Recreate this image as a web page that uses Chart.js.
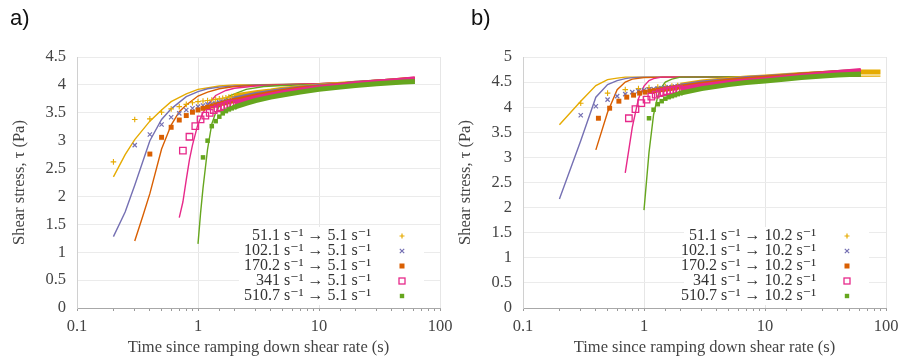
<!DOCTYPE html>
<html>
<head>
<meta charset="utf-8">
<script src="https://cdn.jsdelivr.net/npm/chart.js"></script>
<style>
body { margin: 0; background: #fff; }
#wrap { position: relative; width: 900px; height: 362px; overflow: hidden; background: #fff; }
.panel { position: absolute; top: 0; }
.tag { position: absolute; top: 5px; font-family: "Liberation Sans", "Open Sans", sans-serif; font-size: 22px; color: #111; }
</style>
</head>
<body>
<div id="wrap">
  <div class="panel" style="left:0px"><canvas id="chartA" width="470" height="362"></canvas></div>
  <div class="panel" style="left:450px"><canvas id="chartB" width="470" height="362"></canvas></div>
  <div class="tag" style="left:10px">a)</div>
  <div class="tag" style="left:471px">b)</div>
</div>
<script>
// ---- data, panel a (ramp down to 5.1 1/s) ----
const aLegend = ['51.1 s⁻¹ → 5.1 s⁻¹', '102.1 s⁻¹ → 5.1 s⁻¹', '170.2 s⁻¹ → 5.1 s⁻¹', '341 s⁻¹ → 5.1 s⁻¹', '510.7 s⁻¹ → 5.1 s⁻¹'];
const aFitTime = [
    [0.2, 0.25, 0.3, 0.4, 0.5, 0.6, 0.8, 1, 1.5, 2, 5, 10, 30, 62],
    [0.2, 0.25, 0.3, 0.4, 0.5, 0.6, 0.8, 1, 1.2, 1.5, 2, 3, 10, 30, 62],
    [0.3, 0.35, 0.4, 0.5, 0.6, 0.7, 0.8, 1, 1.2, 1.5, 2, 3, 10, 30, 62],
    [0.7, 0.75, 0.8, 0.85, 0.9, 1, 1.1, 1.2, 1.4, 1.7, 2, 3, 5, 10, 30, 62],
    [1, 1.05, 1.1, 1.2, 1.3, 1.4, 1.5, 1.8, 2.5, 3.5, 5, 10, 30, 62]
];
const aFitStress = [
    [2.35, 2.75, 3.02, 3.35, 3.55, 3.7, 3.84, 3.92, 3.98, 4.0, 4.01, 4.02, 4.06, 4.1],
    [1.28, 1.72, 2.2, 3.0, 3.38, 3.57, 3.79, 3.88, 3.93, 3.96, 3.98, 4.0, 4.02, 4.06, 4.1],
    [1.2, 1.65, 2.05, 2.85, 3.28, 3.52, 3.64, 3.8, 3.87, 3.93, 3.97, 3.99, 4.02, 4.06, 4.1],
    [1.62, 1.9, 2.3, 2.66, 2.92, 3.3, 3.5, 3.64, 3.81, 3.9, 3.94, 3.98, 4.0, 4.02, 4.06, 4.11],
    [1.15, 1.7, 2.15, 2.85, 3.3, 3.5, 3.62, 3.8, 3.92, 3.97, 3.99, 4.01, 4.06, 4.1]
];
const aMarkTime = [
    [0.2, 0.3, 0.4, 0.5, 0.6, 0.7, 0.8, 0.9, 1.0, 1.1, 1.2, 1.3, 1.4, 1.5, 1.6, 1.7, 1.8, 1.9, 2.0],
    [0.3, 0.4, 0.5, 0.6, 0.7, 0.8, 0.9, 1.0, 1.1, 1.2, 1.3, 1.4, 1.5, 1.6, 1.7, 1.8, 1.9, 2.0],
    [0.4, 0.5, 0.6, 0.7, 0.8, 0.9, 1.0, 1.1, 1.2, 1.3, 1.4, 1.5, 1.6, 1.7, 1.8, 1.9, 2.0],
    [0.75, 0.85, 0.95, 1.05, 1.15, 1.25, 1.35, 1.45, 1.55, 1.65, 1.75, 1.85, 1.95],
    [1.1, 1.2, 1.3, 1.4, 1.5, 1.6, 1.7, 1.8, 1.9, 2.0]
];
const aMarkStress = [
    [2.62, 3.38, 3.39, 3.51, 3.57, 3.61, 3.65, 3.68, 3.7, 3.71, 3.72, 3.73, 3.74, 3.75, 3.76, 3.77, 3.78, 3.79, 3.8],
    [2.92, 3.11, 3.29, 3.42, 3.49, 3.55, 3.58, 3.61, 3.63, 3.65, 3.66, 3.67, 3.69, 3.7, 3.71, 3.72, 3.73, 3.75],
    [2.76, 3.06, 3.24, 3.37, 3.45, 3.51, 3.55, 3.58, 3.6, 3.62, 3.64, 3.65, 3.67, 3.68, 3.7, 3.71, 3.72],
    [2.82, 3.07, 3.26, 3.38, 3.45, 3.5, 3.55, 3.58, 3.6, 3.62, 3.64, 3.66, 3.67],
    [2.7, 3.0, 3.26, 3.35, 3.43, 3.49, 3.53, 3.56, 3.58, 3.6]
];
const aBandTime = [
    [2, 3, 4, 5, 7, 10, 15, 20, 30, 40, 50, 62],
    [2, 3, 4, 5, 7, 10, 15, 20, 30, 40, 50, 62],
    [2, 3, 4, 5, 7, 10, 15, 20, 30, 40, 50, 62],
    [2, 3, 4, 5, 7, 10, 15, 20, 30, 40, 50, 62],
    [2, 2.5, 3, 4, 5, 7, 10, 15, 20, 30, 40, 50, 62]
];
const aBandStress = [
    [3.8, 3.86, 3.89, 3.92, 3.95, 3.98, 4.01, 4.03, 4.05, 4.07, 4.08, 4.09],
    [3.75, 3.83, 3.87, 3.9, 3.94, 3.97, 4.0, 4.03, 4.05, 4.07, 4.08, 4.09],
    [3.72, 3.8, 3.85, 3.88, 3.93, 3.96, 4.0, 4.02, 4.05, 4.07, 4.09, 4.1],
    [3.68, 3.77, 3.82, 3.86, 3.91, 3.95, 3.99, 4.02, 4.05, 4.07, 4.09, 4.11],
    [3.6, 3.67, 3.72, 3.78, 3.82, 3.87, 3.92, 3.96, 3.99, 4.02, 4.04, 4.05, 4.06]
];

// ---- data, panel b (ramp down to 10.2 1/s) ----
const bLegend = ['51.1 s⁻¹ → 10.2 s⁻¹', '102.1 s⁻¹ → 10.2 s⁻¹', '170.2 s⁻¹ → 10.2 s⁻¹', '341 s⁻¹ → 10.2 s⁻¹', '510.7 s⁻¹ → 10.2 s⁻¹'];
const bFitTime = [
    [0.2, 0.3, 0.4, 0.5, 0.6, 0.7, 1, 2, 10, 90],
    [0.2, 0.3, 0.4, 0.5, 0.6, 0.7, 0.8, 1, 2, 10, 62],
    [0.4, 0.5, 0.6, 0.7, 0.8, 1, 1.5, 10, 62],
    [0.7, 0.8, 0.9, 1, 1.1, 1.2, 1.4, 2, 10, 62],
    [1, 1.1, 1.2, 1.3, 1.4, 1.5, 1.7, 2, 10, 62]
];
const bFitStress = [
    [3.65, 4.12, 4.43, 4.55, 4.58, 4.6, 4.6, 4.6, 4.61, 4.62],
    [2.17, 3.33, 4.2, 4.45, 4.53, 4.57, 4.59, 4.6, 4.6, 4.61, 4.62],
    [3.15, 3.9, 4.35, 4.5, 4.56, 4.59, 4.6, 4.61, 4.62],
    [2.69, 3.6, 4.17, 4.42, 4.53, 4.57, 4.6, 4.6, 4.61, 4.62],
    [1.95, 3.1, 3.85, 4.22, 4.4, 4.5, 4.56, 4.6, 4.61, 4.62]
];
const bMarkTime = [
    [0.3, 0.5, 0.7, 0.9, 1.1, 1.3, 1.5, 1.7, 1.9],
    [0.3, 0.4, 0.5, 0.6, 0.7, 0.8, 0.9, 1.0, 1.1, 1.2, 1.3, 1.4, 1.5, 1.6, 1.7, 1.8, 1.9, 2.0],
    [0.42, 0.52, 0.62, 0.72, 0.82, 0.92, 1.02, 1.12, 1.22, 1.32, 1.42, 1.52, 1.62, 1.72, 1.82, 1.92],
    [0.75, 0.85, 0.95, 1.05, 1.15, 1.25, 1.35, 1.45, 1.55, 1.65, 1.75, 1.85, 1.95],
    [1.1, 1.2, 1.3, 1.4, 1.5, 1.6, 1.7, 1.8, 1.9, 2.0]
];
const bMarkStress = [
    [4.08, 4.28, 4.35, 4.37, 4.39, 4.4, 4.41, 4.42, 4.43],
    [3.84, 4.02, 4.15, 4.22, 4.26, 4.3, 4.32, 4.34, 4.35, 4.36, 4.37, 4.38, 4.39, 4.4, 4.4, 4.41, 4.42, 4.42],
    [3.78, 3.98, 4.12, 4.2, 4.24, 4.28, 4.3, 4.32, 4.33, 4.34, 4.35, 4.36, 4.37, 4.38, 4.39, 4.4],
    [3.78, 3.96, 4.08, 4.15, 4.21, 4.25, 4.28, 4.3, 4.32, 4.33, 4.34, 4.35, 4.36],
    [3.78, 3.95, 4.06, 4.12, 4.17, 4.2, 4.22, 4.24, 4.26, 4.28]
];
const bBandTime = [
    [2, 3, 5, 7, 10, 15, 20, 30, 40, 60, 90],
    [2, 3, 5, 7, 10, 15, 20, 30, 40, 50, 62],
    [2, 3, 5, 7, 10, 15, 20, 30, 40, 50, 62],
    [2, 3, 5, 7, 10, 15, 20, 30, 40, 50, 62],
    [2, 3, 5, 7, 10, 15, 20, 30, 40, 50, 62]
];
const bBandStress = [
    [4.44, 4.5, 4.55, 4.58, 4.6, 4.63, 4.65, 4.67, 4.68, 4.7, 4.7],
    [4.42, 4.48, 4.53, 4.57, 4.59, 4.62, 4.64, 4.67, 4.69, 4.7, 4.71],
    [4.4, 4.46, 4.52, 4.55, 4.58, 4.61, 4.64, 4.67, 4.69, 4.7, 4.71],
    [4.37, 4.43, 4.49, 4.52, 4.55, 4.59, 4.62, 4.66, 4.69, 4.71, 4.73],
    [4.28, 4.37, 4.45, 4.49, 4.52, 4.56, 4.59, 4.62, 4.64, 4.65, 4.66]
];

const xTickLabels = ['0.1', '1', '10', '100'];
const yTickLabelsA = ['0', '0.5', '1', '1.5', '2', '2.5', '3', '3.5', '4', '4.5'];
const yTickLabelsB = ['0', '0.5', '1', '1.5', '2', '2.5', '3', '3.5', '4', '4.5', '5'];

// styles
const seriesColors = ['#e6ab02', '#7570b3', '#d95f02', '#e7298a', '#66a61e'];
const markerStyles = [
    { pointStyle: 'cross', pointRadius: 2.8, pointBorderWidth: 1.1 },
    { pointStyle: 'crossRot', pointRadius: 3, pointBorderWidth: 1.2 },
    { pointStyle: 'rect', pointRadius: 3.5, pointBorderWidth: 0 },
    { pointStyle: 'rect', pointRadius: 4.6, pointBorderWidth: 1.3, open: true },
    { pointStyle: 'rect', pointRadius: 3.2, pointBorderWidth: 0 }
];
const serif = '"Liberation Serif", "DejaVu Serif", serif';

function pts(t, v) {
    return t.map((x, i) => ({ x: x, y: v[i] }));
}

function buildDatasets(fitT, fitY, markT, markY, bandT, bandY) {
    const ds = [];
    let order = 100;
    fitT.forEach((t, i) => {
        ds.push({
            data: pts(t, fitY[i]), showLine: true, borderColor: seriesColors[i],
            borderWidth: 1.4, pointRadius: 0, order: order--
        });
    });
    markT.forEach((t, i) => {
        const m = markerStyles[i];
        // thick band where the measured points run together
        ds.push({
            data: pts(bandT[i], bandY[i]), showLine: true, borderColor: seriesColors[i],
            borderWidth: 5, pointRadius: 0, order: order--
        });
        // separate early points
        ds.push({
            data: pts(t, markY[i]), showLine: false, order: order--,
            pointStyle: m.pointStyle, pointRadius: m.pointRadius, pointBorderWidth: m.pointBorderWidth,
            pointBorderColor: seriesColors[i],
            pointBackgroundColor: m.open ? 'rgba(255,255,255,0)' : seriesColors[i]
        });
    });
    return ds;
}

function drawMarker(ctx, i, x, y) {
    const c = seriesColors[i];
    ctx.strokeStyle = c;
    ctx.fillStyle = c;
    ctx.lineWidth = 1.2;
    ctx.beginPath();
    if (i === 0) {
        ctx.moveTo(x - 2.5, y); ctx.lineTo(x + 2.5, y);
        ctx.moveTo(x, y - 2.5); ctx.lineTo(x, y + 2.5);
        ctx.stroke();
    } else if (i === 1) {
        ctx.moveTo(x - 2.2, y - 2.2); ctx.lineTo(x + 2.2, y + 2.2);
        ctx.moveTo(x - 2.2, y + 2.2); ctx.lineTo(x + 2.2, y - 2.2);
        ctx.stroke();
    } else if (i === 2) {
        ctx.fillRect(x - 2.5, y - 2.5, 5, 5);
    } else if (i === 3) {
        ctx.lineWidth = 1.3;
        ctx.strokeRect(x - 3, y - 3, 6, 6);
    } else {
        ctx.fillRect(x - 2.2, y - 2.2, 4.4, 4.4);
    }
}

const legendPlugin = {
    id: 'sideLegend',
    afterDatasetsDraw(chart, args, opts) {
        const ctx = chart.ctx;
        ctx.save();
        ctx.fillStyle = '#fff';
        ctx.fillRect(opts.textRight - 132, opts.top - 9, opts.markerX + 22 - (opts.textRight - 132), opts.rowGap * 4 + 18);
        ctx.font = '16px ' + serif;
        ctx.textAlign = 'right';
        ctx.textBaseline = 'middle';
        opts.labels.forEach((txt, i) => {
            const y = opts.top + i * opts.rowGap;
            ctx.fillStyle = '#333';
            ctx.fillText(txt, opts.textRight, y);
            drawMarker(ctx, i, opts.markerX, y);
        });
        ctx.restore();
    }
};

function makeChart(id, datasets, yMax, yLabels, pad, legendOpts) {
    return new Chart(document.getElementById(id), {
        type: 'scatter',
        data: { datasets: datasets },
        plugins: [legendPlugin],
        options: {
            responsive: false,
            animation: false,
            devicePixelRatio: 1,
            layout: { padding: pad },
            plugins: {
                legend: { display: false },
                tooltip: { enabled: false },
                sideLegend: legendOpts
            },
            scales: {
                x: {
                    type: 'logarithmic', min: 0.1, max: 100,
                    afterFit: (s) => { s.height = 362 - 308 - pad.bottom; },
                    grid: {
                        color: (c) => {
                            const l = Math.log10(c.tick.value);
                            return Math.abs(l - Math.round(l)) < 1e-6 ? '#e6e6e6' : 'rgba(0,0,0,0)';
                        },
                        tickColor: '#9a9a9a', tickLength: 3, drawTicks: true
                    },
                    border: { color: '#a8a8a8' },
                    ticks: {
                        autoSkip: false, maxRotation: 0, padding: 6, color: '#444',
                        font: { family: serif, size: 16.5 },
                        callback: (v) => {
                            const l = Math.log10(v);
                            return Math.abs(l - Math.round(l)) < 1e-6 ? xTickLabels[Math.round(l) + 1] : '';
                        }
                    },
                    title: {
                        display: true, text: 'Time since ramping down shear rate (s)', color: '#444',
                        font: { family: serif, size: 16.5 }, padding: { top: 0, bottom: 2 }
                    }
                },
                y: {
                    min: 0, max: yMax,
                    afterFit: (s) => { s.width = 69; },
                    grid: { color: '#ebebeb', drawTicks: false },
                    border: { color: '#d0d0d0' },
                    ticks: {
                        stepSize: 0.5, padding: 11, color: '#444',
                        font: { family: serif, size: 16.5 },
                        callback: (v, i) => yLabels[i]
                    },
                    title: {
                        display: true, text: 'Shear stress, τ (Pa)', color: '#444',
                        font: { family: serif, size: 16.5 }, padding: { top: 2, bottom: 0 }
                    }
                }
            }
        }
    });
}

makeChart('chartA',
    buildDatasets(aFitTime, aFitStress, aMarkTime, aMarkStress, aBandTime, aBandStress),
    4.5, yTickLabelsA, { left: 8, top: 57, right: 30, bottom: 2 },
    { labels: aLegend, textRight: 371, markerX: 402, top: 236, rowGap: 15 });

makeChart('chartB',
    buildDatasets(bFitTime, bFitStress, bMarkTime, bMarkStress, bBandTime, bBandStress),
    5, yTickLabelsB, { left: 4, top: 57, right: 34, bottom: 2 },
    { labels: bLegend, textRight: 366, markerX: 397, top: 236, rowGap: 15 });
</script>
</body>
</html>
